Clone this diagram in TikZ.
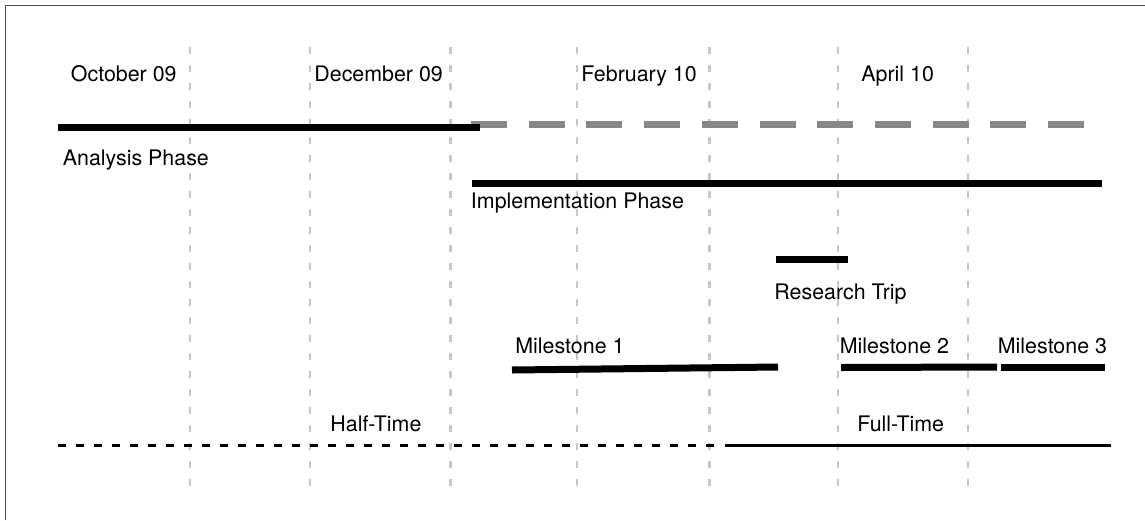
\documentclass[tikz,border=0pt]{standalone}
\usepackage{fontspec}
\setmainfont{TeX Gyre Heros}
\begin{document}
\begin{tikzpicture}[x=0.5pt,y=-0.5pt,
	bar/.style={line width=3.5pt},
	grid line/.style={black!22,line width=1.3pt,dash pattern=on 3.5pt off 5.5pt},
	lbl/.style={anchor=base west,inner sep=0pt,font=\fontsize{10.7}{13}\selectfont}]
	\useasboundingbox (0,0) rectangle (1145,520);
	\draw[black!70,line width=0.8pt] (5.5,520) -- (5.5,5.5) -- (1145,5.5);
	% month grid
	\foreach \x in {190,310,450.5,577,709.5,838,968}
		\draw[grid line] (\x,47) -- (\x,490);
	\node[lbl] (oct) at (70.5,81.5) {October 09};
	\node[lbl] (dec) at (314,81.5) {December 09};
	\node[lbl] (feb) at (581,81.5) {February 10};
	\node[lbl] (apr) at (861,81.5) {April 10};
	% phases
	\coordinate (ex1) at (471,124.5);
	\coordinate (ex2) at (1084,124.5);
	\draw[bar,black!47,dash pattern=on 18pt off 10.85pt] (ex1) -- (ex2);
	\coordinate (an1) at (58,127);
	\coordinate (an2) at (480,127);
	\draw[bar] (an1) -- (an2);
	\node[lbl] (analysis) at (62.5,165.5) {Analysis Phase};
	\coordinate (im1) at (472,183.5);
	\coordinate (im2) at (1102,183.5);
	\draw[bar] (im1) -- (im2);
	\node[lbl] (impl) at (470.5,208.5) {Implementation Phase};
	\coordinate (rt1) at (776,259);
	\coordinate (rt2) at (848,259);
	\draw[bar] (rt1) -- (rt2);
	\node[lbl] (trip) at (774,299.5) {Research Trip};
	% milestones
	\coordinate (ms1a) at (512,370);
	\coordinate (ms1b) at (778,367);
	\draw[bar] (ms1a) -- (ms1b);
	\node[lbl] (m1) at (515,353.5) {Milestone 1};
	\coordinate (ms2a) at (841,367.5);
	\coordinate (ms2b) at (997,367);
	\draw[bar] (ms2a) -- (ms2b);
	\node[lbl] (m2) at (839.5,353.5) {Milestone 2};
	\coordinate (ms3a) at (1001,367);
	\coordinate (ms3b) at (1105,367);
	\draw[bar] (ms3a) -- (ms3b);
	\node[lbl] (m3) at (997.5,353.5) {Milestone 3};
	% work time
	\coordinate (ht1) at (58,445.5);
	\coordinate (ht2) at (715,445.5);
	\draw[line width=1.7pt,dash pattern=on 4pt off 5pt] (ht1) -- (ht2);
	\node[lbl] (half) at (330,431) {Half-Time};
	\coordinate (ft1) at (725,445.5);
	\coordinate (ft2) at (1111,445.5);
	\draw[line width=1.7pt] (ft1) -- (ft2);
	\node[lbl] (full) at (857,431) {Full-Time};
\end{tikzpicture}
\end{document}
